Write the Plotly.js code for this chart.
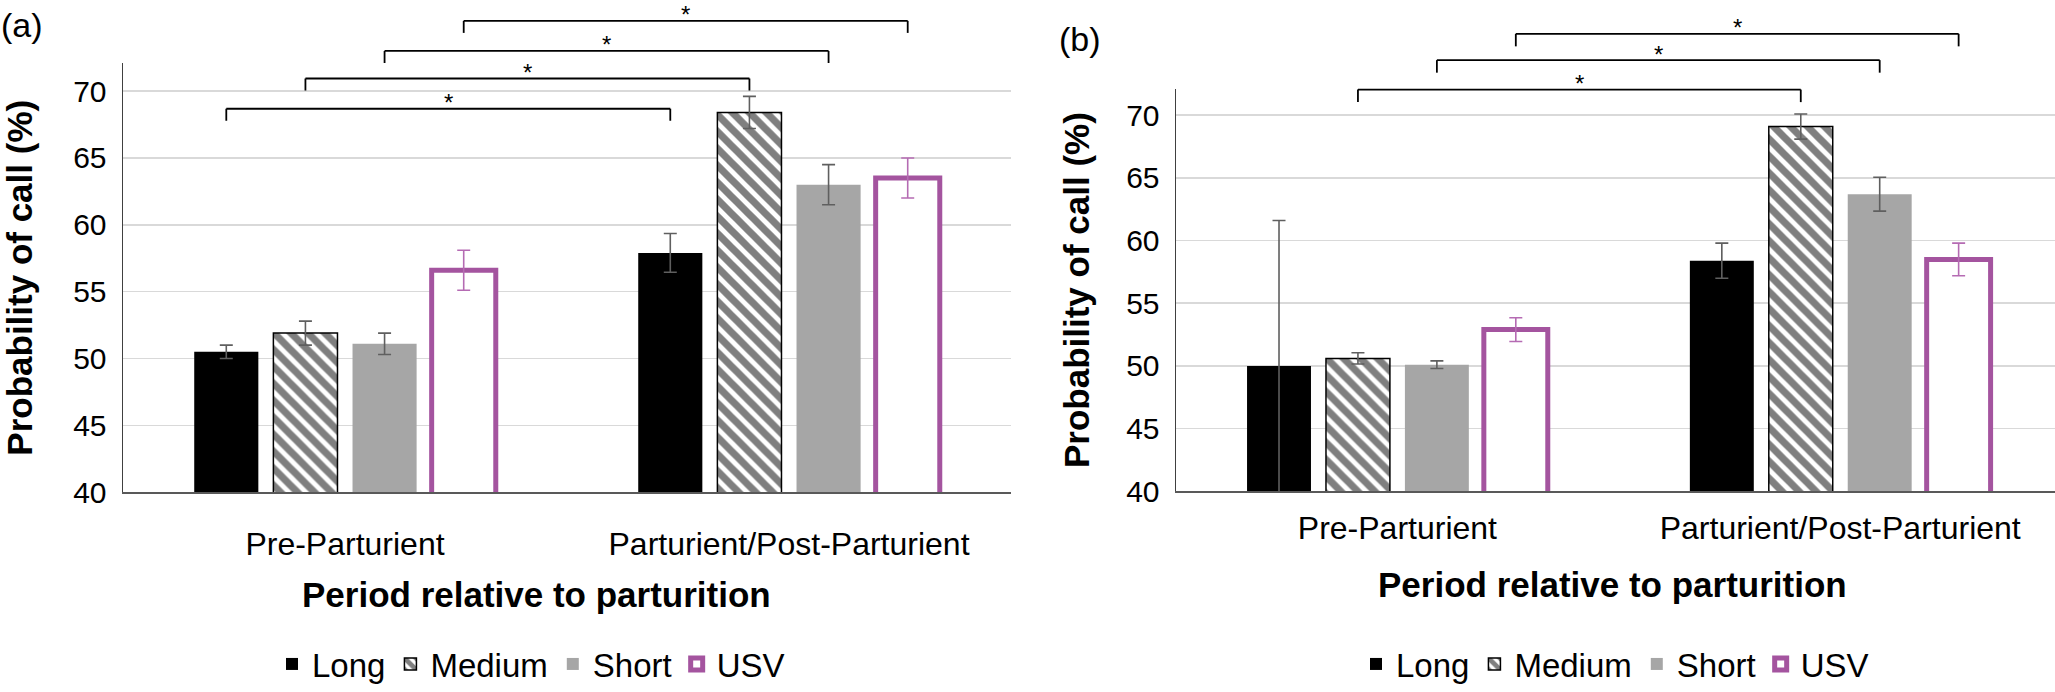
<!DOCTYPE html>
<html><head><meta charset="utf-8">
<script src="https://cdn.plot.ly/plotly-3.0.1.min.js"></script>
<style>html,body{margin:0;padding:0;background:#fff}#chart{width:2055px;height:692px}</style>
</head><body><div id="chart"></div>
<script>
// ---------- data ----------
const categories = ['Pre-Parturient', 'Parturient/Post-Parturient'];
const seriesNames = ['Long', 'Medium', 'Short', 'USV'];
const yTickVals = [40, 45, 50, 55, 60, 65, 70];

// panel (a)
const aLong = [50.5, 57.9];
const aLongErr = [0.5, 1.45];
const aMedium = [51.9, 68.4];
const aMediumErr = [0.9, 1.2];
const aShort = [51.1, 63.0];
const aShortErr = [0.8, 1.5];
const aUSV = [56.6, 63.5];
const aUSVErr = [1.5, 1.5];
// significant comparisons (series index, pre vs post)
const aSignif = [0, 1, 2, 3];

// panel (b)
const bLong = [50.0, 58.4];
const bLongErr = [11.6, 1.4];
const bMedium = [50.6, 69.1];
const bMediumErr = [0.45, 1.0];
const bShort = [50.1, 63.7];
const bShortErr = [0.3, 1.35];
const bUSV = [52.9, 58.5];
const bUSVErr = [0.95, 1.3];
const bSignif = [1, 2, 3];

// ---------- styling ----------
const W = 2055, H = 692;
const FONT = 'Liberation Sans, Arial, sans-serif';
const PURPLE = '#A4549F';
const ERRGRAY = '#5f5f5f';
const BARGAP = 0.287, BARGROUPGAP = 0.19;

const styles = [
  {marker: {color: '#000000', line: {width: 0}}, err: ERRGRAY},
  {marker: {color: '#ffffff', line: {color: '#000000', width: 1.5},
            pattern: {shape: '\\', fgcolor: '#000000', bgcolor: '#ffffff', size: 12, solidity: 0.6, fillmode: 'overlay'}}, err: ERRGRAY},
  {marker: {color: '#A6A6A6', line: {width: 0}}, err: ERRGRAY},
  {marker: {color: '#ffffff', line: {color: PURPLE, width: 5}}, err: '#B56BB3'}
];

function makeTraces(vals, errs, xa, ya, legendId) {
  return vals.map((v, i) => ({
    type: 'bar', name: seriesNames[i], x: categories, y: v,
    xaxis: xa, yaxis: ya, legend: legendId,
    marker: styles[i].marker,
    error_y: {type: 'data', array: errs[i], visible: true, color: styles[i].err, thickness: 1.6, width: 6.5},
    hoverinfo: 'y'
  }));
}

const traces = [
  ...makeTraces([aLong, aMedium, aShort, aUSV], [aLongErr, aMediumErr, aShortErr, aUSVErr], 'x', 'y', 'legend'),
  ...makeTraces([bLong, bMedium, bShort, bUSV], [bLongErr, bMediumErr, bShortErr, bUSVErr], 'x2', 'y2', 'legend2')
];

const domA = {x: [123 / W, 1011 / W], y: [1 - 498 / H, 1 - 64 / H]};
const domB = {x: [1176 / W, 1], y: [1 - 497 / H, 1 - 90 / H]};
const rangeA = [40, 72.08];
const rangeB = [40, 72.1];

// bracket geometry (value units above bars)
const bracketA = {levels: [68.68, 70.94, 73.0, 75.25], drop: 0.9};
const bracketB = {levels: [72.05, 74.4, 76.5], drop: 1.0};

function yPaper(v, dom, rng) { return dom[0] + (v - rng[0]) / (rng[1] - rng[0]) * (dom[1] - dom[0]); }
function barOffset(i) { const slot = (1 - BARGAP) / seriesNames.length; return (i - (seriesNames.length - 1) / 2) * slot; }

const shapes = [], annotations = [];
function addBrackets(signif, br, xref, domY, rng) {
  signif.forEach((s, k) => {
    const xl = 0 + barOffset(s), xr = 1 + barOffset(s);
    const yTop = yPaper(br.levels[k], domY, rng), yBot = yPaper(br.levels[k] - br.drop, domY, rng);
    const mk = (x0, x1, y0, y1) => ({type: 'line', xref: xref, yref: 'paper', x0: x0, x1: x1, y0: y0, y1: y1,
      line: {color: '#000000', width: 1.8}, layer: 'above'});
    shapes.push(mk(xl, xr, yTop, yTop));
    shapes.push(mk(xl, xl, yBot, yTop));
    shapes.push(mk(xr, xr, yBot, yTop));
    annotations.push({xref: xref, yref: 'paper', x: (xl + xr) / 2, y: yTop, text: '*', showarrow: false,
      yanchor: 'middle', yshift: 6, font: {family: FONT, size: 24, color: '#000'}});
  });
}
addBrackets(aSignif, bracketA, 'x', domA.y, rangeA);
addBrackets(bSignif, bracketB, 'x2', domB.y, rangeB);

annotations.push(
  {xref: 'paper', yref: 'paper', x: 22 / W, y: 1 - 25 / H, text: '(a)', showarrow: false, xanchor: 'center', yanchor: 'middle', font: {family: FONT, size: 34, color: '#000'}},
  {xref: 'paper', yref: 'paper', x: 1080 / W, y: 1 - 39 / H, text: '(b)', showarrow: false, xanchor: 'center', yanchor: 'middle', font: {family: FONT, size: 34, color: '#000'}},
  {xref: 'paper', yref: 'paper', x: 536 / W, y: 1 - 601 / H, text: 'Period relative to parturition', showarrow: false, xanchor: 'center', yanchor: 'middle', font: {family: FONT, size: 35, color: '#000', weight: 'bold'}},
  {xref: 'paper', yref: 'paper', x: 1612 / W, y: 1 - 591 / H, text: 'Period relative to parturition', showarrow: false, xanchor: 'center', yanchor: 'middle', font: {family: FONT, size: 35, color: '#000', weight: 'bold'}}
);

function xAxis(dom, anchor, range, standoff) {
  return {domain: dom, anchor: anchor, type: 'category', range: range, showgrid: false, zeroline: false,
    showline: true, linecolor: '#595959', linewidth: 2, ticks: '', ticklabelstandoff: standoff,
    tickfont: {family: FONT, size: 32, color: '#000'}, fixedrange: true};
}
function yAxis(dom, anchor, range, standoff) {
  return {domain: dom, anchor: anchor, range: range, tickmode: 'array', tickvals: yTickVals,
    showgrid: true, gridcolor: '#D9D9D9', gridwidth: 1.6, zeroline: false,
    showline: true, linecolor: '#404040', linewidth: 1.5, ticks: '', ticklabelstandoff: 9,
    tickfont: {family: FONT, size: 30, color: '#000'},
    title: {text: 'Probability of call (%)', standoff: standoff, font: {family: FONT, size: 35, color: '#000', weight: 'bold'}},
    fixedrange: true};
}

const legendBase = {orientation: 'h', xanchor: 'center', yanchor: 'middle', y: 1 - 672 / H,
  font: {family: FONT, size: 33, color: '#000'}, bgcolor: 'rgba(0,0,0,0)', traceorder: 'normal'};

const layout = {
  width: W, height: H, margin: {l: 0, r: 0, t: 0, b: 0},
  paper_bgcolor: '#fff', plot_bgcolor: '#fff',
  font: {family: FONT, color: '#000'},
  barmode: 'group', bargap: BARGAP, bargroupgap: BARGROUPGAP,
  xaxis: xAxis(domA.x, 'y', [-0.5, 1.5], 22),
  yaxis: yAxis(domA.y, 'x', rangeA, 32),
  xaxis2: xAxis(domB.x, 'y2', [-0.5, 1.485], 7),
  yaxis2: yAxis(domB.y, 'x2', rangeB, 26),
  legend: Object.assign({}, legendBase, {x: 531 / W}),
  legend2: Object.assign({}, legendBase, {x: 1615 / W}),
  shapes: shapes, annotations: annotations, showlegend: true
};

Plotly.newPlot('chart', traces, layout, {displayModeBar: false, responsive: false, staticPlot: true});
</script></body></html>
